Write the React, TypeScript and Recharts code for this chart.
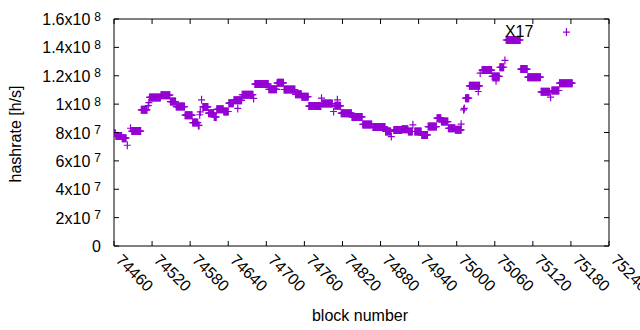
import { ScatterChart, Scatter, XAxis, YAxis, ReferenceArea, ReferenceDot, Label } from 'recharts';

const runStart = [
  74460, 74463, 74473, 74481, 74486, 74488, 74503, 74514, 74515, 74516,
  74534, 74549, 74558, 74572, 74584, 74593, 74595, 74596, 74598, 74600,
  74609, 74618, 74622, 74633, 74641, 74649, 74655, 74662, 74680, 74682,
  74704, 74717, 74718, 74728, 74746, 74756, 74767, 74787, 74788, 74806,
  74808, 74812, 74818, 74835, 74852, 74868, 74888, 74897, 74901, 74914,
  74924, 74931, 74934, 74945, 74955, 74969, 74976, 74987, 74998, 75007,
  75011, 75012, 75014, 75020, 75034, 75037, 75040, 75056, 75062, 75068,
  75076, 75078, 75101, 75112, 75133, 75148, 75150, 75162, 75173,
];
const runEnd = [
  74462, 74472, 74479, 74481, 74486, 74502, 74512, 74514, 74515, 74533,
  74548, 74557, 74571, 74583, 74592, 74594, 74595, 74596, 74598, 74608,
  74617, 74621, 74632, 74640, 74648, 74661, 74655, 74679, 74680, 74703,
  74716, 74717, 74727, 74745, 74755, 74766, 74786, 74787, 74804, 74806,
  74817, 74812, 74834, 74851, 74866, 74887, 74896, 74897, 74913, 74923,
  74930, 74931, 74944, 74954, 74968, 74975, 74986, 74997, 75007, 75007,
  75011, 75012, 75019, 75036, 75034, 75037, 75055, 75067, 75062, 75074,
  75076, 75100, 75111, 75132, 75146, 75148, 75161, 75182, 75173,
];
const runValue = [
  79.5, 77.5, 76, 71, 83, 81, 96, 99, 101, 104.7,
  106.3, 101.8, 98.3, 92.2, 87, 85, 92.5, 94.5, 103, 98,
  93.6, 91, 96.3, 94.8, 100.7, 102.7, 97, 106.6, 104, 114.1,
  110.4, 114.8, 115, 110.3, 106.9, 105.2, 98.6, 104.2, 100.4, 94.8,
  98.8, 103, 93.6, 91, 85.7, 83.8, 80.7, 77.1, 81.7, 82.3,
  80.7, 85.4, 80.7, 78.3, 84.2, 90.1, 87.7, 83, 81.9, 85.9,
  96, 97, 104.2, 112.9, 108.9, 121.9, 124, 119.5, 116.4, 126,
  130.8, 145.2, 124.7, 119, 108.7, 104.9, 109.6, 114.8, 150.8,
];

const xTicks = [
  74460, 74520, 74580, 74640, 74700, 74760, 74820, 74880, 74940, 75000,
  75060, 75120, 75180, 75240,
];
const yTicks = [0, 20, 40, 60, 80, 100, 120, 140, 160];

const points: { block: number; hashrate: number }[] = [];
runStart.forEach((start, i) => {
  for (let b = start; b <= runEnd[i]; b++) {
    points.push({ block: b, hashrate: runValue[i] });
  }
});

const PURPLE = '#9400d3';
const FONT = '"Liberation Sans", Arial, sans-serif';
const PLOT_TOP = 19;
const PLOT_BOTTOM = 246;
const PLOT_LEFT = 114;
const PLOT_RIGHT = 609;

function PlusShape(props: any) {
  const { cx, cy } = props;
  return (
    <path
      d={`M${cx - 3.5},${cy}H${cx + 3.5}M${cx},${cy - 4}V${cy + 4}`}
      stroke={PURPLE}
      strokeWidth={1.2}
      fill="none"
    />
  );
}

function XTick({ x, payload }: any) {
  const tx = x + 1;
  const ty = PLOT_BOTTOM + 15;
  return (
    <g>
      <line x1={x} x2={x} y1={PLOT_BOTTOM} y2={PLOT_BOTTOM - 5} stroke="#000" />
      <line x1={x} x2={x} y1={PLOT_TOP} y2={PLOT_TOP + 5} stroke="#000" />
      <text
        x={tx}
        y={ty}
        transform={`rotate(45 ${tx} ${ty})`}
        fontSize={16}
        fontFamily={FONT}
        fill="#000"
      >
        {payload.value}
      </text>
    </g>
  );
}

function YTick({ y, payload }: any) {
  const v = payload.value * 1e6;
  let label;
  if (v === 0) {
    label = (
      <text x={101} y={y + 6} textAnchor="end" fontSize={16} fontFamily={FONT} fill="#000">
        0
      </text>
    );
  } else {
    const exp = Math.floor(Math.log10(v) + 1e-9);
    const m = +(v / Math.pow(10, exp)).toFixed(1);
    label = (
      <text x={101} y={y + 6} textAnchor="end" fontSize={16} fontFamily={FONT} fill="#000">
        {`${m}x10`}
        <tspan dx={4} dy={-4.5} fontSize={12}>{exp}</tspan>
      </text>
    );
  }
  return (
    <g>
      <line x1={PLOT_LEFT} x2={PLOT_LEFT + 5} y1={y} y2={y} stroke="#000" />
      <line x1={PLOT_RIGHT} x2={PLOT_RIGHT - 5} y1={y} y2={y} stroke="#000" />
      {label}
    </g>
  );
}

export default function App() {
  return (
    <div style={{ width: 640, height: 330, background: '#fff' }}>
      <style>{`body { margin: 0; }`}</style>
      <ScatterChart
        width={640}
        height={330}
        margin={{ top: PLOT_TOP, right: 640 - PLOT_RIGHT, left: 0, bottom: 0 }}
      >
        <XAxis
          type="number"
          dataKey="block"
          domain={[74460, 75240]}
          ticks={xTicks}
          interval={0}
          height={330 - PLOT_BOTTOM}
          tick={<XTick />}
          tickLine={false}
          axisLine={false}
          allowDataOverflow
        >
          <Label
            content={() => (
              <text x={360} y={321} textAnchor="middle" fontSize={16} fontFamily={FONT} fill="#000">
                block number
              </text>
            )}
          />
        </XAxis>
        <YAxis
          type="number"
          dataKey="hashrate"
          domain={[0, 160]}
          ticks={yTicks}
          interval={0}
          width={PLOT_LEFT}
          tick={<YTick />}
          tickLine={false}
          axisLine={false}
          allowDataOverflow
        >
          <Label
            content={() => (
              <text
                transform="translate(21 134) rotate(-90)"
                textAnchor="middle"
                fontSize={16}
                fontFamily={FONT}
                fill="#000"
              >
                hashrate [h/s]
              </text>
            )}
          />
        </YAxis>
        <ReferenceArea
          x1={74460}
          x2={75240}
          y1={0}
          y2={160}
          fill="none"
          stroke="#000"
          strokeWidth={1}
        />
        <Scatter data={points} shape={PlusShape} isAnimationActive={false} />
        <ReferenceDot
          x={75076}
          y={147.5}
          r={0}
          shape={(p: any) => (
            <text x={p.cx} y={p.cy} fontSize={16} fontFamily={FONT} fill="#000">
              X17
            </text>
          )}
        />
      </ScatterChart>
    </div>
  );
}
